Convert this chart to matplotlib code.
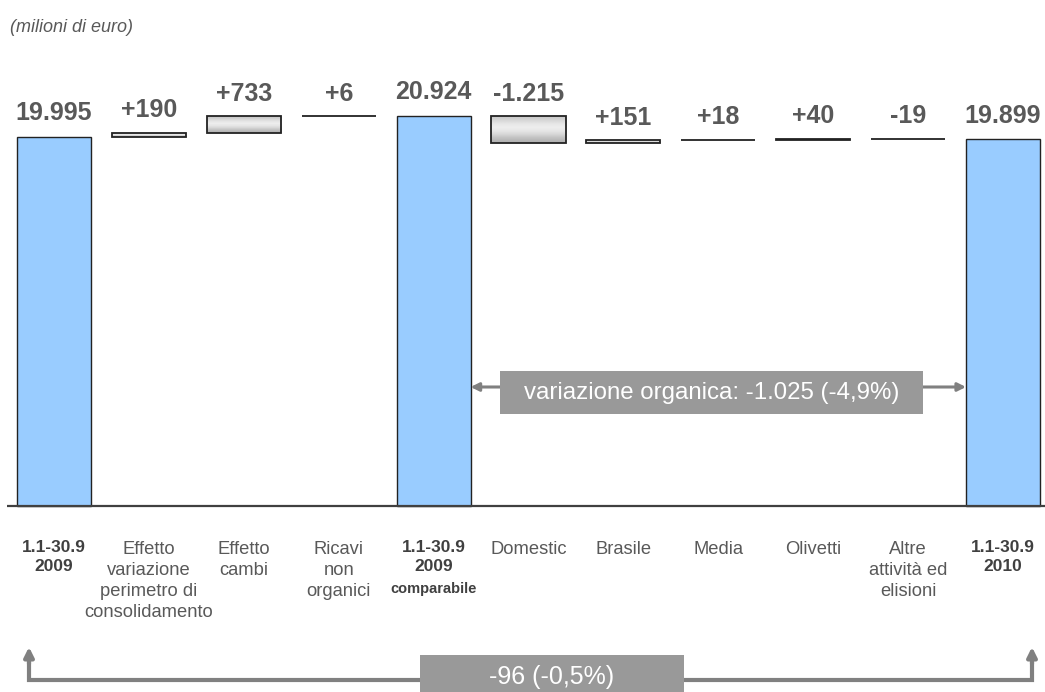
import numpy as np
import matplotlib
matplotlib.use('Agg')
import matplotlib.pyplot as plt
from matplotlib.patches import Rectangle
from matplotlib.transforms import blended_transform_factory

plt.rcParams['font.family'] = ['Liberation Sans', 'DejaVu Sans']

# data (milioni di euro)
categories = ['1.1-30.9\n2009', 'Effetto\nvariazione\nperimetro di\nconsolidamento',
              'Effetto\ncambi', 'Ricavi\nnon\norganici', '1.1-30.9\n2009',
              'Domestic', 'Brasile', 'Media', 'Olivetti',
              'Altre\nattività ed\nelisioni', '1.1-30.9\n2010']
start_value = 19995
perimeter_deltas = [190, 733, 6]
comparable_value = 20924
organic_deltas = [-1215, 151, 18, 40, -19]
end_value = 19899
organic_text = 'variazione organica: -1.025 (-4,9%)'
total_text = '-96 (-0,5%)'

W, H = 1045, 692
fig = plt.figure(figsize=(W / 100, H / 100), dpi=100)
ax = fig.add_axes([0, 0, 1, 1])
ax.set_axis_off()

# pixel layout helpers
step, x0px = 94.9, 54.0
y_base = 3671          # value at the baseline
upp = 44.24            # value units per pixel
base_px = 506

def fy(py):
    return 1 - py / H

tr = blended_transform_factory(ax.transData, fig.transFigure)

bw = 0.78
blue = '#99CCFF'
txt_grey = '#595959'

def fmt(v, sign=False):
    s = f'{v:+,}' if sign else f'{v:,}'
    return s.replace(',', '.')

grad = np.array([0.78, 0.84, 0.90, 0.93, 0.90, 0.84, 0.76, 0.70]).reshape(-1, 1)

def total_bar(i, v):
    ax.bar(i, v - y_base, bottom=y_base, width=bw, color=blue,
           edgecolor='#222222', linewidth=1.0, zorder=2)
    ax.annotate(fmt(v), (i, v), xytext=(0, 12), textcoords='offset points',
                ha='center', va='baseline', fontsize=18, fontweight='bold',
                color=txt_grey)

def delta_bar(i, prev, d):
    lo, hi = min(prev, prev + d), max(prev, prev + d)
    rect = ax.bar(i, hi - lo, bottom=lo, width=bw, color='#dddddd',
                  edgecolor='none', zorder=2)[0]
    im = ax.imshow(grad, extent=[i - bw / 2, i + bw / 2, lo, hi], cmap='gray',
                   vmin=0, vmax=1, aspect='auto', zorder=2.5, interpolation='bilinear')
    im.set_clip_path(rect)
    ax.bar(i, hi - lo, bottom=lo, width=bw, fill=False,
           edgecolor='#222222', linewidth=1.3, zorder=3)
    ax.annotate(fmt(d, sign=True), (i, hi), xytext=(0, 11), textcoords='offset points',
                ha='center', va='baseline', fontsize=18, fontweight='bold',
                color=txt_grey)

total_bar(0, start_value)
run = start_value
for k, d in enumerate(perimeter_deltas):
    delta_bar(1 + k, run, d)
    run += d
total_bar(4, comparable_value)
run = comparable_value
for k, d in enumerate(organic_deltas):
    delta_bar(5 + k, run, d)
    run += d
total_bar(10, end_value)

ax.set_xlim(-x0px / step, (W - x0px) / step)
ax.set_ylim(y_base - (H - base_px) * upp, y_base + base_px * upp)

# baseline
ax.plot([(7 - x0px) / step, (W - x0px) / step], [y_base, y_base],
        color='#404040', lw=1.6, zorder=4, solid_capstyle='butt')

# category labels
bold_idx = [0, 4, 10]
for i, lab in enumerate(categories):
    if i in bold_idx:
        ax.text(i, fy(540), lab, transform=tr, ha='center', va='top',
                fontsize=12.5, fontweight='bold', color='#404040', linespacing=1.3)
    else:
        ax.text(i, fy(541), lab, transform=tr, ha='center', va='top',
                fontsize=13.2, color=txt_grey, linespacing=1.32)
ax.text(4, fy(589), 'comparabile', transform=tr, ha='center', va='center',
        fontsize=10.5, fontweight='bold', color='#404040')

# title
fig.text(10 / W, fy(28), '(milioni di euro)', ha='left', va='center',
         fontsize=13, style='italic', color=txt_grey)

arrow_grey = '#808080'
box_grey = '#999999'

# organic variation arrow
ya = fy(387)
ax.annotate('', xy=(4 + bw / 2, ya), xycoords=tr, xytext=(10 - bw / 2, ya), textcoords=tr,
            arrowprops=dict(arrowstyle='<|-|>', color=arrow_grey, lw=2.2,
                            mutation_scale=12, shrinkA=0, shrinkB=0), zorder=3)
x_l, x_r = (500 - x0px) / step, (923 - x0px) / step
ax.add_patch(Rectangle((x_l, fy(414)), x_r - x_l, (414 - 371) / H, transform=tr,
                       facecolor=box_grey, edgecolor='none', zorder=4))
ax.text((x_l + x_r) / 2, fy(393), organic_text, transform=tr, ha='center', va='center',
        fontsize=17.3, color='white', zorder=5)

# total variation arrow
xl2, xr2 = (29 - x0px) / step, (1032 - x0px) / step
yl = fy(680)
ax.plot([xl2, xl2, xr2, xr2], [fy(660), yl, yl, fy(660)], transform=tr,
        color=arrow_grey, lw=3, zorder=3, solid_joinstyle='miter')
for xx in (xl2, xr2):
    ax.annotate('', xy=(xx, fy(647)), xycoords=tr, xytext=(xx, fy(664)), textcoords=tr,
                arrowprops=dict(arrowstyle='-|>', color=arrow_grey, lw=3,
                                mutation_scale=14, shrinkA=0, shrinkB=0), zorder=3)
xb1, xb2 = (420 - x0px) / step, (684 - x0px) / step
ax.add_patch(Rectangle((xb1, fy(700)), xb2 - xb1, (700 - 655) / H, transform=tr,
                       facecolor=box_grey, edgecolor='none', zorder=4))
ax.text((xb1 + xb2) / 2, fy(677), total_text, transform=tr, ha='center', va='center',
        fontsize=18, color='white', zorder=5)

fig.savefig('out.png', dpi=100)
